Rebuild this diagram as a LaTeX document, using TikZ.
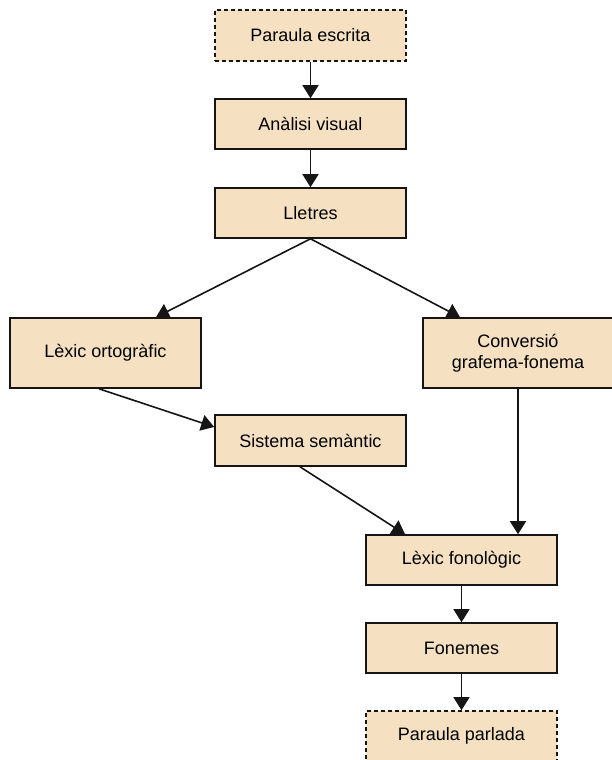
\documentclass[tikz,border=0pt]{standalone}
\usepackage{fontspec}
\setmainfont{Liberation Sans}
\usepackage{tikz}
\usetikzlibrary{arrows.meta,positioning,calc}
\definecolor{boxfill}{HTML}{F5E1C2}
\definecolor{boxline}{HTML}{151515}

\begin{document}
\begin{tikzpicture}[x=1pt,y=-1pt,
  stage/.style={draw=boxline, fill=boxfill, line width=1.6pt, minimum width=191pt,
    minimum height=50pt, inner sep=0pt, align=center, font=\fontsize{18}{21.5}\selectfont},
  endstage/.style={stage, dash pattern=on 4pt off 3pt},
  flow/.style={draw=boxline, line width=1.6pt, -{Triangle[length=13pt,width=16pt]}}]
\useasboundingbox (0,0) rectangle (611,760);
% Reading route
\node[endstage, minimum height=51pt] (escrita) at (310.5,35.5) {Paraula escrita};
\node[stage] (visual) at (310.5,124) {Anàlisi visual};
\node[stage] (lletres) at (310.5,213) {Lletres};
% Two routes
\node[stage, minimum height=70pt] (orto) at (105.5,353) {Lèxic ortogràfic};
\node[stage, minimum height=70pt, minimum width=190pt] (conv) at (518,353) {Conversió\\grafema-fonema};
\node[stage, minimum height=51pt] (sem) at (310.5,440.5) {Sistema semàntic};
% Speech output
\node[stage] (fono) at (461.5,560) {Lèxic fonològic};
\node[stage] (fonemes) at (461.5,648) {Fonemes};
\node[endstage] (parlada) at (461.5,736) {Paraula parlada};
% Arrows
\draw[flow] (escrita) -- (visual);
\draw[flow] (visual) -- (lletres);
\draw[flow] (lletres.south) -- ([xshift=50.5pt]orto.north);
\draw[flow] (lletres.south) -- ([xshift=-58pt]conv.north);
\draw[flow] ([xshift=-6.5pt]orto.south) -- ([yshift=13.5pt]sem.west);
\draw[flow] ([xshift=-10.5pt]sem.south) -- ([xshift=-56.5pt]fono.north);
\draw[flow] (conv.south) -- (conv.south |- fono.north);
\draw[flow] (fono) -- (fonemes);
\draw[flow] (fonemes) -- (parlada);
\end{tikzpicture}
\end{document}
